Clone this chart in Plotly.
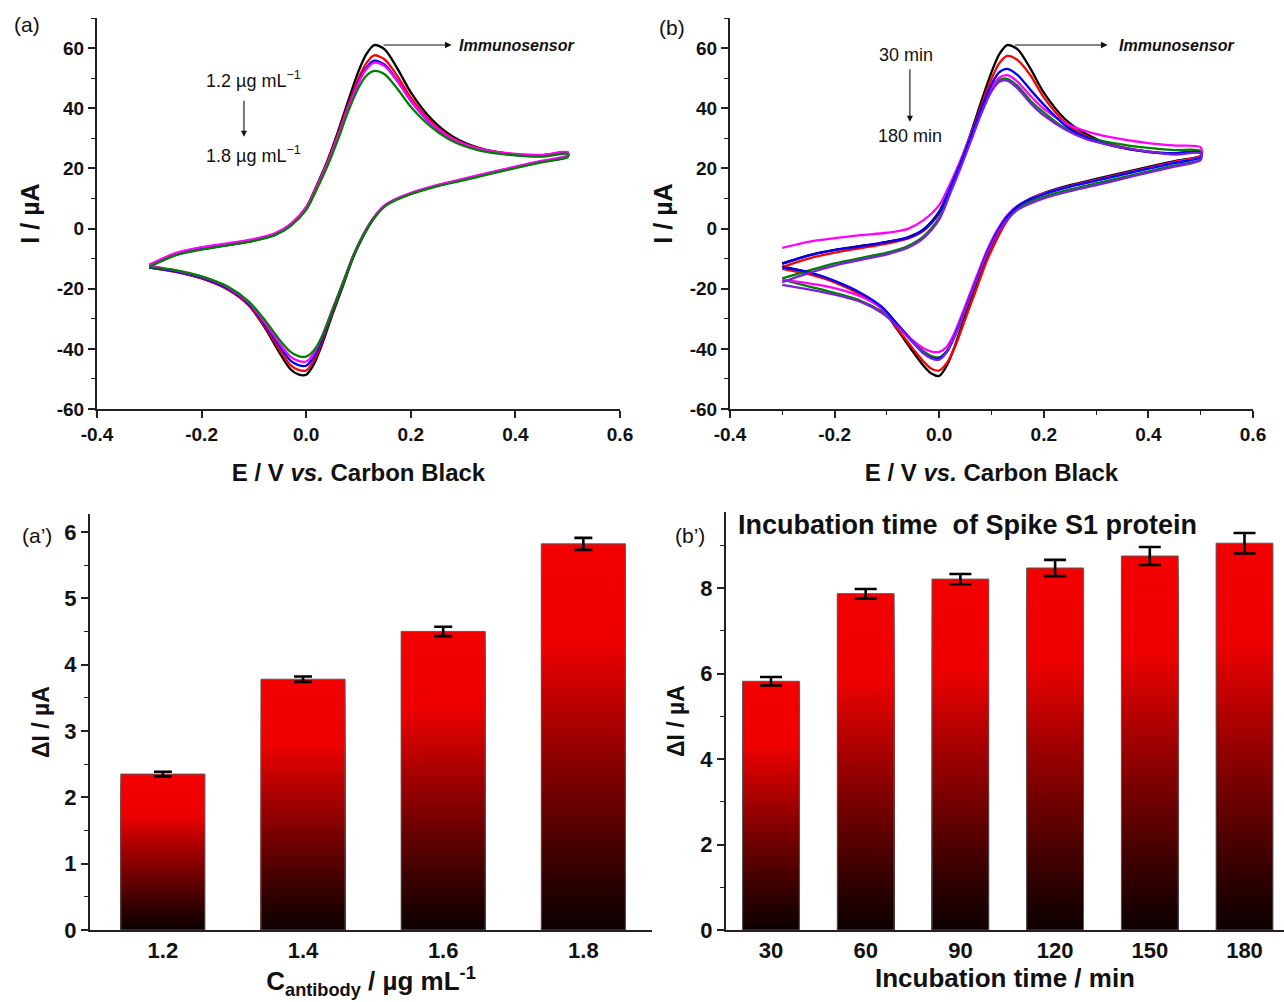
import plotly.graph_objects as go

# ---------------- CV data (E in V, I in uA) ----------------
E_fwd = [-0.30, -0.25, -0.20, -0.15, -0.10, -0.06, -0.03, 0.00, 0.02, 0.04, 0.06, 0.08,
         0.10, 0.115, 0.13, 0.15, 0.175, 0.20, 0.24, 0.28, 0.33, 0.40, 0.45, 0.50]
E_rev = [0.50, 0.45, 0.40, 0.35, 0.30, 0.25, 0.20, 0.17, 0.15, 0.13, 0.11, 0.09, 0.07,
         0.05, 0.03, 0.015, 0.00, -0.015, -0.03, -0.05, -0.08, -0.11, -0.15, -0.20, -0.25, -0.30]

# panel (a): antibody concentration
a_black_f = [-12.5, -8.6, -6.7, -5.4, -3.9, -2.0, 1.2, 7.0, 14.3, 22.3, 31.8, 42.3, 52.3, 58.0, 61.0, 59.6, 53.0, 45.3, 36.3, 30.6, 26.8, 24.6, 24.3, 25.2]
a_red_f = [-12.3, -8.3, -6.4, -5.1, -3.7, -1.8, 1.4, 7.0, 14.0, 21.8, 31.0, 41.0, 50.0, 55.0, 57.6, 56.2, 50.5, 43.6, 35.3, 30.0, 26.6, 24.7, 24.4, 25.3]
a_blue_f = [-12.6, -8.8, -6.8, -5.5, -4.0, -2.1, 1.0, 6.6, 13.6, 21.3, 30.3, 40.2, 48.8, 53.5, 55.8, 54.5, 49.0, 42.5, 34.6, 29.5, 26.2, 24.4, 24.1, 25.0]
a_magenta_f = [-12.0, -8.2, -6.2, -4.9, -3.5, -1.6, 1.5, 7.0, 13.8, 21.5, 30.4, 40.0, 48.4, 53.0, 55.2, 54.0, 48.8, 42.5, 34.8, 29.8, 26.6, 24.8, 24.5, 25.4]
a_green_f = [-12.7, -8.9, -7.0, -5.6, -4.1, -2.2, 0.8, 6.2, 13.0, 20.5, 29.2, 38.8, 46.8, 50.8, 52.4, 51.3, 46.3, 40.5, 33.6, 29.0, 26.0, 24.3, 23.9, 24.8]

a_black_r = [24.0, 22.3, 20.4, 18.4, 16.3, 14.3, 11.7, 9.6, 7.6, 3.6, -2.2, -9.6, -19.2, -28.6, -38.7, -45.0, -48.6, -48.5, -46.8, -41.6, -32.7, -25.5, -20.2, -16.5, -14.3, -13.0]
a_red_r = [24.1, 22.3, 20.4, 18.4, 16.3, 14.3, 11.7, 9.6, 7.6, 3.7, -2.0, -9.3, -18.8, -28.0, -37.8, -43.8, -47.2, -47.0, -45.4, -40.6, -32.3, -25.5, -20.3, -16.6, -14.4, -13.0]
a_blue_r = [23.9, 22.2, 20.3, 18.3, 16.2, 14.2, 11.6, 9.5, 7.5, 3.7, -1.9, -9.2, -18.5, -27.5, -37.0, -42.6, -45.6, -45.4, -43.9, -39.4, -31.6, -25.0, -19.9, -16.3, -14.2, -12.9]
a_magenta_r = [24.4, 22.5, 20.6, 18.6, 16.5, 14.4, 11.8, 9.7, 7.7, 3.9, -1.7, -8.9, -18.0, -26.9, -36.0, -41.4, -44.2, -44.0, -42.6, -38.4, -31.0, -24.6, -19.5, -16.0, -13.9, -12.3]
a_green_r = [23.8, 22.0, 20.1, 18.1, 16.0, 14.0, 11.4, 9.3, 7.3, 3.5, -2.0, -9.2, -18.2, -27.2, -36.0, -40.5, -42.6, -42.4, -41.0, -37.2, -30.2, -24.2, -19.3, -15.9, -13.8, -12.8]

# panel (b): incubation time
b_black_f = [-11.6, -8.9, -7.1, -5.8, -4.4, -2.9, -0.3, 5.6, 13.6, 22.0, 31.5, 42.0, 52.0, 58.0, 61.0, 59.6, 53.0, 45.2, 36.5, 31.5, 27.8, 25.4, 25.0, 25.6]
b_red_f = [-12.8, -10.0, -8.0, -6.5, -5.0, -3.4, -0.8, 5.0, 13.0, 21.4, 30.8, 40.8, 49.8, 55.0, 57.4, 56.0, 50.8, 43.6, 35.4, 30.8, 27.8, 25.6, 25.0, 25.3]
b_blue_f = [-11.8, -9.0, -7.2, -5.9, -4.5, -3.0, -0.4, 5.4, 13.2, 21.4, 30.4, 39.8, 48.0, 52.0, 53.1, 51.0, 46.0, 41.2, 34.4, 30.4, 27.6, 25.6, 25.0, 25.2]
b_magenta_f = [-6.4, -4.4, -3.2, -2.2, -1.4, -0.1, 2.8, 7.8, 14.6, 22.4, 31.0, 39.6, 46.8, 50.2, 51.0, 48.8, 44.0, 39.8, 35.2, 32.4, 30.3, 28.4, 27.6, 27.0]
b_green_f = [-16.6, -14.0, -11.6, -9.8, -8.0, -5.8, -2.6, 3.6, 11.8, 20.4, 29.4, 38.6, 46.2, 49.4, 49.8, 47.4, 42.4, 38.6, 33.4, 30.4, 28.5, 26.8, 26.1, 25.8]
b_purple_f = [-17.8, -14.8, -12.3, -10.4, -8.6, -6.4, -3.2, 3.0, 11.2, 19.8, 28.8, 38.0, 45.6, 48.8, 49.2, 46.6, 41.6, 37.6, 33.0, 29.8, 27.6, 25.6, 24.6, 25.0]

b_black_r = [24.2, 22.4, 20.5, 18.5, 16.5, 14.4, 11.8, 9.6, 7.4, 3.4, -2.4, -9.8, -19.2, -28.8, -39.0, -45.4, -49.0, -48.2, -45.6, -41.0, -33.6, -26.6, -21.8, -17.6, -14.6, -12.6]
b_red_r = [24.1, 22.2, 20.2, 18.2, 16.2, 14.1, 11.5, 9.2, 6.8, 2.6, -3.6, -11.2, -20.6, -30.0, -39.4, -44.6, -47.2, -46.6, -44.2, -40.0, -33.3, -26.6, -22.0, -17.9, -15.2, -13.4]
b_blue_r = [23.7, 21.8, 19.9, 17.9, 15.9, 13.9, 11.4, 9.4, 7.4, 4.0, -1.4, -8.6, -17.6, -26.8, -35.6, -40.8, -43.2, -43.0, -41.5, -37.8, -31.8, -26.0, -21.4, -17.4, -14.5, -12.9]
b_magenta_r = [24.0, 22.0, 20.0, 18.0, 16.0, 14.0, 11.6, 9.5, 7.6, 4.4, -0.8, -7.8, -16.6, -25.6, -34.4, -39.2, -41.0, -40.9, -39.8, -37.3, -31.8, -26.5, -22.6, -19.8, -18.2, -17.1]
b_green_r = [23.0, 21.0, 19.0, 17.0, 15.0, 13.0, 10.6, 8.7, 6.8, 3.6, -1.6, -8.6, -17.4, -26.6, -35.4, -40.6, -42.8, -42.4, -40.8, -37.6, -32.0, -27.6, -24.0, -21.4, -19.2, -17.0]
b_purple_r = [22.8, 20.6, 18.6, 16.5, 14.4, 12.4, 10.0, 8.0, 6.2, 3.0, -2.0, -9.0, -17.8, -27.0, -35.8, -41.0, -43.6, -43.2, -41.4, -38.0, -32.4, -28.0, -24.4, -22.0, -20.2, -18.7]

# ---------------- bar data ----------------
conc_labels = ["1.2", "1.4", "1.6", "1.8"]
conc_dI = [2.35, 3.78, 4.50, 5.82]
conc_err = [0.035, 0.04, 0.07, 0.09]

time_labels = ["30", "60", "90", "120", "150", "180"]
time_dI = [5.82, 7.87, 8.21, 8.47, 8.75, 9.05]
time_err = [0.10, 0.11, 0.12, 0.19, 0.21, 0.24]

cv_xticks = [-0.4, -0.2, 0.0, 0.2, 0.4, 0.6]
cv_xtext = ["-0.4", "-0.2", "0.0", "0.2", "0.4", "0.6"]
cv_yticks = [-60, -40, -20, 0, 20, 40, 60]
cv_ytext = ["-60", "-40", "-20", "0", "20", "40", "60"]

FONT = "Liberation Sans, Arial, sans-serif"
NARROW = "Liberation Sans Narrow, Liberation Sans, Arial, sans-serif"

fig = go.Figure()


def add_cv(xa, ya, ef, ir, color, width=2.3):
    fig.add_trace(go.Scatter(
        x=E_fwd + E_rev, y=ef + ir, mode="lines",
        line=dict(color=color, width=width, shape="spline", smoothing=0.8),
        xaxis=xa, yaxis=ya, showlegend=False, hoverinfo="skip"))


for f, r, c in [(a_black_f, a_black_r, "#000000"), (a_red_f, a_red_r, "#ff0000"),
                (a_blue_f, a_blue_r, "#0000ff"), (a_magenta_f, a_magenta_r, "#ff00ff"),
                (a_green_f, a_green_r, "#008000")]:
    add_cv("x", "y", f, r, c)

for f, r, c in [(b_black_f, b_black_r, "#000000"), (b_red_f, b_red_r, "#ff0000"),
                (b_green_f, b_green_r, "#008000"), (b_magenta_f, b_magenta_r, "#ff00ff"),
                (b_blue_f, b_blue_r, "#0000ff"), (b_purple_f, b_purple_r, "#7b1fe0")]:
    add_cv("x2", "y2", f, r, c)


# ---------------- gradient bars ----------------
def grad_color(t):
    if t < 0.75:
        r = 12 + (238 - 12) * (t / 0.75) ** 1.1
    else:
        r = 238 + (244 - 238) * ((t - 0.75) / 0.25)
    return "rgb(%d,0,0)" % round(r)


N = 70


def add_bars(xa, ya, cats, vals, errs, capw):
    for k in range(N, 0, -1):
        fig.add_trace(go.Bar(
            x=cats, y=[v * k / N for v in vals], width=0.6,
            marker=dict(color=grad_color(k / N), line=dict(width=0)),
            xaxis=xa, yaxis=ya, showlegend=False, hoverinfo="skip"))
    fig.add_trace(go.Bar(
        x=cats, y=vals, width=0.6,
        marker=dict(color="rgba(0,0,0,0)", line=dict(width=1, color="#5a5a5a")),
        xaxis=xa, yaxis=ya, showlegend=False, hoverinfo="skip"))
    fig.add_trace(go.Scatter(
        x=cats, y=vals, mode="markers", marker=dict(size=1, color="rgba(0,0,0,0)"),
        error_y=dict(type="data", array=errs, color="#000000", thickness=2.6, width=capw),
        xaxis=xa, yaxis=ya, showlegend=False, hoverinfo="skip"))


add_bars("x3", "y3", conc_labels, conc_dI, conc_err, 9)
add_bars("x4", "y4", time_labels, time_dI, time_err, 11)

# ---------------- axes ----------------
W, H = 1284, 1002


def dx(a, b):
    return [a / W, b / W]


def dy(top, bottom):
    return [1 - bottom / H, 1 - top / H]


tickf = dict(family=NARROW, size=19, color="#111111", weight="bold")
titlef = dict(family=FONT, size=24, color="#111111", weight="bold")
common = dict(showline=True, linecolor="#222222", linewidth=2, ticks="outside",
              tickwidth=1.6, tickcolor="#222222", ticklen=7, showgrid=False,
              zeroline=False, mirror=False, automargin=False)

cv_x = dict(range=[-0.4, 0.6], tickvals=cv_xticks, ticktext=cv_xtext, tickfont=tickf,
            title=dict(text="E / V <i>vs.</i> Carbon Black", font=titlef, standoff=20), **common)
cv_y = dict(range=[-60, 70], tickvals=cv_yticks, ticktext=cv_ytext, tickfont=tickf,
            minor=dict(dtick=10, ticklen=4, tickcolor="#222222", tickwidth=1.4, ticks="outside"),
            title=dict(text="I / µA", font=dict(family=FONT, size=25, color="#111111", weight="bold"),
                       standoff=10), **common)

fig.update_layout(
    xaxis=dict(domain=dx(97, 620), anchor="y", **cv_x),
    yaxis=dict(domain=dy(18, 409), anchor="x", **cv_y),
    xaxis2=dict(domain=dx(730, 1253), anchor="y2",
                minor=dict(dtick=0.1, ticklen=4, tickcolor="#222222", tickwidth=1.4, ticks="outside"),
                **cv_x),
    yaxis2=dict(domain=dy(18, 409), anchor="x2", **cv_y),
)

barx_tickf = dict(family=NARROW, size=22, color="#111111", weight="bold")
bar_common = dict(showline=True, linecolor="#222222", linewidth=2, showgrid=False, zeroline=False,
                  automargin=False)

fig.update_layout(
    xaxis3=dict(domain=dx(90, 652), anchor="y3", type="category", range=[-0.52, 3.49],
                ticks="", tickfont=barx_tickf, ticklabelstandoff=0,
                title=dict(text="C<sub>antibody</sub> / µg mL<sup>-1</sup>",
                           font=dict(family=FONT, size=26, color="#111111", weight="bold"), standoff=7),
                **bar_common),
    yaxis3=dict(domain=dy(514, 930), anchor="x3", range=[0, 6.27], tickvals=[0, 1, 2, 3, 4, 5, 6],
                ticks="outside", ticklen=7, tickwidth=1.6, tickcolor="#222222", tickfont=barx_tickf,
                minor=dict(dtick=0.5, ticklen=4, tickcolor="#222222", tickwidth=1.4, ticks="outside"),
                title=dict(text="ΔI / µA", font=dict(family=FONT, size=23, color="#111111", weight="bold"),
                           standoff=8),
                **bar_common),
    xaxis4=dict(domain=dx(726, 1284), anchor="y4", type="category", range=[-0.475, 5.417],
                ticks="", tickfont=barx_tickf, ticklabelstandoff=0,
                title=dict(text="Incubation time / min",
                           font=dict(family=FONT, size=26, color="#111111", weight="bold"), standoff=1),
                **bar_common),
    yaxis4=dict(domain=dy(512, 930), anchor="x4", range=[0, 9.78], tickvals=[0, 2, 4, 6, 8],
                ticks="outside", ticklen=7, tickwidth=1.6, tickcolor="#222222", tickfont=barx_tickf,
                minor=dict(dtick=1, ticklen=4, tickcolor="#222222", tickwidth=1.4, ticks="outside"),
                title=dict(text="ΔI / µA", font=dict(family=FONT, size=23, color="#111111", weight="bold"),
                           standoff=9),
                **bar_common),
)

# ---------------- annotations ----------------
ann = []
lblf = dict(family=FONT, size=21, color="#111111")
for txt, px, py in [("(a)", 27, 25), ("(b)", 672, 27), ("(a’)", 37, 535), ("(b’)", 690, 535)]:
    ann.append(dict(text=txt, x=px / W, y=1 - py / H, xref="paper", yref="paper",
                    showarrow=False, font=lblf, xanchor="center", yanchor="middle"))

immf = dict(family=FONT, size=16, color="#111111", weight="bold", style="italic")
txtf = dict(family=FONT, size=18, color="#111111")
for xr, yr, x0, x1, xt in [("x", "y", 0.145, 0.278, 0.288), ("x2", "y2", 0.142, 0.322, 0.340)]:
    ann.append(dict(x=x1, y=61, ax=x0, ay=61, xref=xr, yref=yr, axref=xr, ayref=yr,
                    text="", showarrow=True, arrowhead=2, arrowsize=1.2, arrowwidth=1.1,
                    arrowcolor="#111111"))
    ann.append(dict(x=xt, y=61, xref=xr, yref=yr, text="Immunosensor", showarrow=False,
                    font=immf, xanchor="left", yanchor="middle"))

ann += [
    dict(x=-0.100, y=49.7, xref="x", yref="y", text="1.2 µg mL<sup>−1</sup>", showarrow=False,
         font=txtf, xanchor="center"),
    dict(x=-0.100, y=24.7, xref="x", yref="y", text="1.8 µg mL<sup>−1</sup>", showarrow=False,
         font=txtf, xanchor="center"),
    dict(x=-0.119, y=30.5, ax=-0.119, ay=43.0, xref="x", yref="y", axref="x", ayref="y", text="",
         showarrow=True, arrowhead=2, arrowsize=1.1, arrowwidth=1.1, arrowcolor="#111111"),
    dict(x=-0.0635, y=57.7, xref="x2", yref="y2", text="30 min", showarrow=False, font=txtf,
         xanchor="center"),
    dict(x=-0.056, y=30.7, xref="x2", yref="y2", text="180 min", showarrow=False, font=txtf,
         xanchor="center"),
    dict(x=-0.056, y=35.5, ax=-0.056, ay=53.5, xref="x2", yref="y2", axref="x2", ayref="y2", text="",
         showarrow=True, arrowhead=2, arrowsize=1.1, arrowwidth=1.1, arrowcolor="#111111"),
    dict(x=967 / W, y=1 - 525 / H, xref="paper", yref="paper", xanchor="center", yanchor="middle",
         text="Incubation time\u00a0 of Spike S1 protein", showarrow=False,
         font=dict(family=FONT, size=27, color="#111111", weight="bold")),
]

fig.update_layout(
    width=W, height=H, margin=dict(l=0, r=0, t=0, b=0, autoexpand=False),
    paper_bgcolor="white", plot_bgcolor="white", barmode="overlay", bargap=0.4,
    annotations=ann, showlegend=False,
)

fig.write_html("out.html")
